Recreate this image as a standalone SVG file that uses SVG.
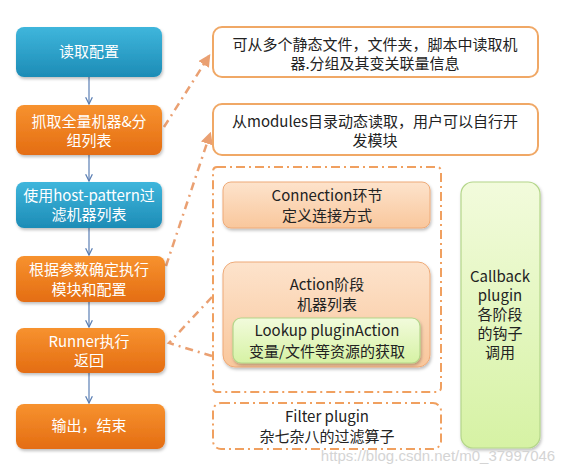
<svg xmlns="http://www.w3.org/2000/svg" width="572" height="473" viewBox="0 0 572 473">
<defs>
<linearGradient id="gTeal" x1="0" y1="0" x2="0" y2="1"><stop offset="0" stop-color="#3fb6dc"/><stop offset="1" stop-color="#1d8cb6"/></linearGradient>
<linearGradient id="gOrange" x1="0" y1="0" x2="0" y2="1"><stop offset="0" stop-color="#f7922f"/><stop offset="1" stop-color="#e46d12"/></linearGradient>
<linearGradient id="gPeach" x1="0" y1="0" x2="0" y2="1"><stop offset="0" stop-color="#fde3cc"/><stop offset="1" stop-color="#f9c79c"/></linearGradient>
<linearGradient id="gGreen" x1="0" y1="0" x2="0" y2="1"><stop offset="0" stop-color="#f2fbdc"/><stop offset="1" stop-color="#d6f2a4"/></linearGradient>
<filter id="sh" x="-10%" y="-10%" width="130%" height="140%"><feDropShadow dx="1" dy="2" stdDeviation="1.5" flood-color="#000" flood-opacity="0.25"/></filter>
<marker id="ah" viewBox="0 0 10 10" refX="9" refY="5" markerWidth="7" markerHeight="7" orient="auto"><path d="M1,1 L9,5 L1,9" fill="none" stroke="#5b7fb4" stroke-width="1.5"/></marker>
<marker id="ao" viewBox="0 0 10 10" refX="8" refY="5" markerWidth="5" markerHeight="5" orient="auto"><path d="M0,0 L10,5 L0,10 Z" fill="#eaa072"/></marker>
<style>
.teal{fill:url(#gTeal);filter:url(#sh)}
.orange{fill:url(#gOrange);filter:url(#sh)}
.note{fill:#fff;stroke:#f0a866;stroke-width:2}
.dash{fill:#fff;stroke:#f0a060;stroke-width:2;stroke-dasharray:9,4,2,4}
.peach{fill:url(#gPeach);stroke:#eeaa78;stroke-width:1;filter:url(#sh)}
.green{fill:url(#gGreen);stroke:#b4d68a;stroke-width:1.2;filter:url(#sh)}
text{font-family:"Noto Sans CJK SC","Noto Sans",sans-serif;font-size:15px;text-anchor:middle}
.w{fill:#fff}
.k{fill:#222}
.flow{stroke:#5b7fb4;stroke-width:1.2;fill:none;marker-end:url(#ah)}
.link{stroke:#eaa072;stroke-width:2.5;fill:none;stroke-dasharray:8,5,2,5}
</style>
</defs>
<rect width="572" height="473" fill="#fff"/>
<g id="connectors">
<line class="flow" x1="89" y1="77" x2="89" y2="104"/>
<line class="flow" x1="89" y1="155" x2="89" y2="181"/>
<line class="flow" x1="89" y1="228" x2="89" y2="255"/>
<line class="flow" x1="89" y1="302" x2="89" y2="327"/>
<line class="flow" x1="89" y1="373" x2="89" y2="403"/>
<line class="flow" x1="327" y1="228" x2="327" y2="261"/>
<line class="link" x1="164" y1="127" x2="209" y2="56" marker-end="url(#ao)"/>
<line class="link" x1="166" y1="266" x2="210" y2="134" marker-end="url(#ao)"/>
<polyline class="link" points="212,297 169,343 212,356"/>
</g>
<g id="n1"><rect class="teal" x="16" y="27" width="146" height="50" rx="8"/><text class="w" x="89" y="57">读取配置</text></g>
<g id="n2"><rect class="orange" x="16" y="105" width="146" height="50" rx="8"/><text class="w" x="89" y="127">抓取全量机器&amp;分</text><text class="w" x="89" y="146">组列表</text></g>
<g id="n3"><rect class="teal" x="16" y="182" width="146" height="46" rx="8"/><text class="w" x="89" y="201">使用host-pattern过</text><text class="w" x="89" y="220">滤机器列表</text></g>
<g id="n4"><rect class="orange" x="16" y="256" width="149" height="46" rx="8"/><text class="w" x="89" y="275">根据参数确定执行</text><text class="w" x="89" y="295">模块和配置</text></g>
<g id="n5"><rect class="orange" x="16" y="328" width="149" height="45" rx="8"/><text class="w" x="89" y="347">Runner执行</text><text class="w" x="89" y="366">返回</text></g>
<g id="n6"><rect class="orange" x="16" y="404" width="149" height="45" rx="8"/><text class="w" x="89" y="431">输出，结束</text></g>
<g id="r1"><rect class="note" x="213" y="27" width="325" height="50" rx="9"/><text class="k" x="375" y="50">可从多个静态文件，文件夹，脚本中读取机</text><text class="k" x="375" y="69">器.分组及其变关联量信息</text></g>
<g id="r2"><rect class="note" x="213" y="104" width="325" height="51" rx="9"/><text class="k" x="375" y="127">从modules目录动态读取，用户可以自行开</text><text class="k" x="375" y="146">发模块</text></g>
<g id="runner-area"><rect class="dash" x="213" y="167" width="228" height="225" rx="4"/></g>
<g id="conn"><rect class="peach" x="223" y="182" width="207" height="46" rx="8"/><text class="k" x="327" y="201">Connection环节</text><text class="k" x="327" y="221">定义连接方式</text></g>
<g id="action"><rect class="peach" x="223" y="262" width="207" height="105" rx="12"/><text class="k" x="327" y="290">Action阶段</text><text class="k" x="327" y="310">机器列表</text></g>
<g id="lookup"><rect class="green" x="233" y="318" width="187" height="45" rx="8"/><text class="k" x="327" y="336">Lookup pluginAction</text><text class="k" x="327" y="357">变量/文件等资源的获取</text></g>
<g id="filter"><rect class="dash" x="213" y="403" width="228" height="46" rx="8"/><text class="k" x="327" y="422">Filter plugin</text><text class="k" x="327" y="442">杂七杂八的过滤算子</text></g>
<g id="callback"><rect class="green" x="461" y="182" width="79" height="266" rx="12"/><text class="k" x="500" y="282">Callback</text><text class="k" x="500" y="301">plugin</text><text class="k" x="500" y="320">各阶段</text><text class="k" x="500" y="339">的钩子</text><text class="k" x="500" y="358">调用</text></g>
<text x="438" y="461" style="font-family:'Liberation Sans',sans-serif;font-size:15px;fill:#d4d4d4">https://blog.csdn.net/m0_37997046</text>
</svg>
